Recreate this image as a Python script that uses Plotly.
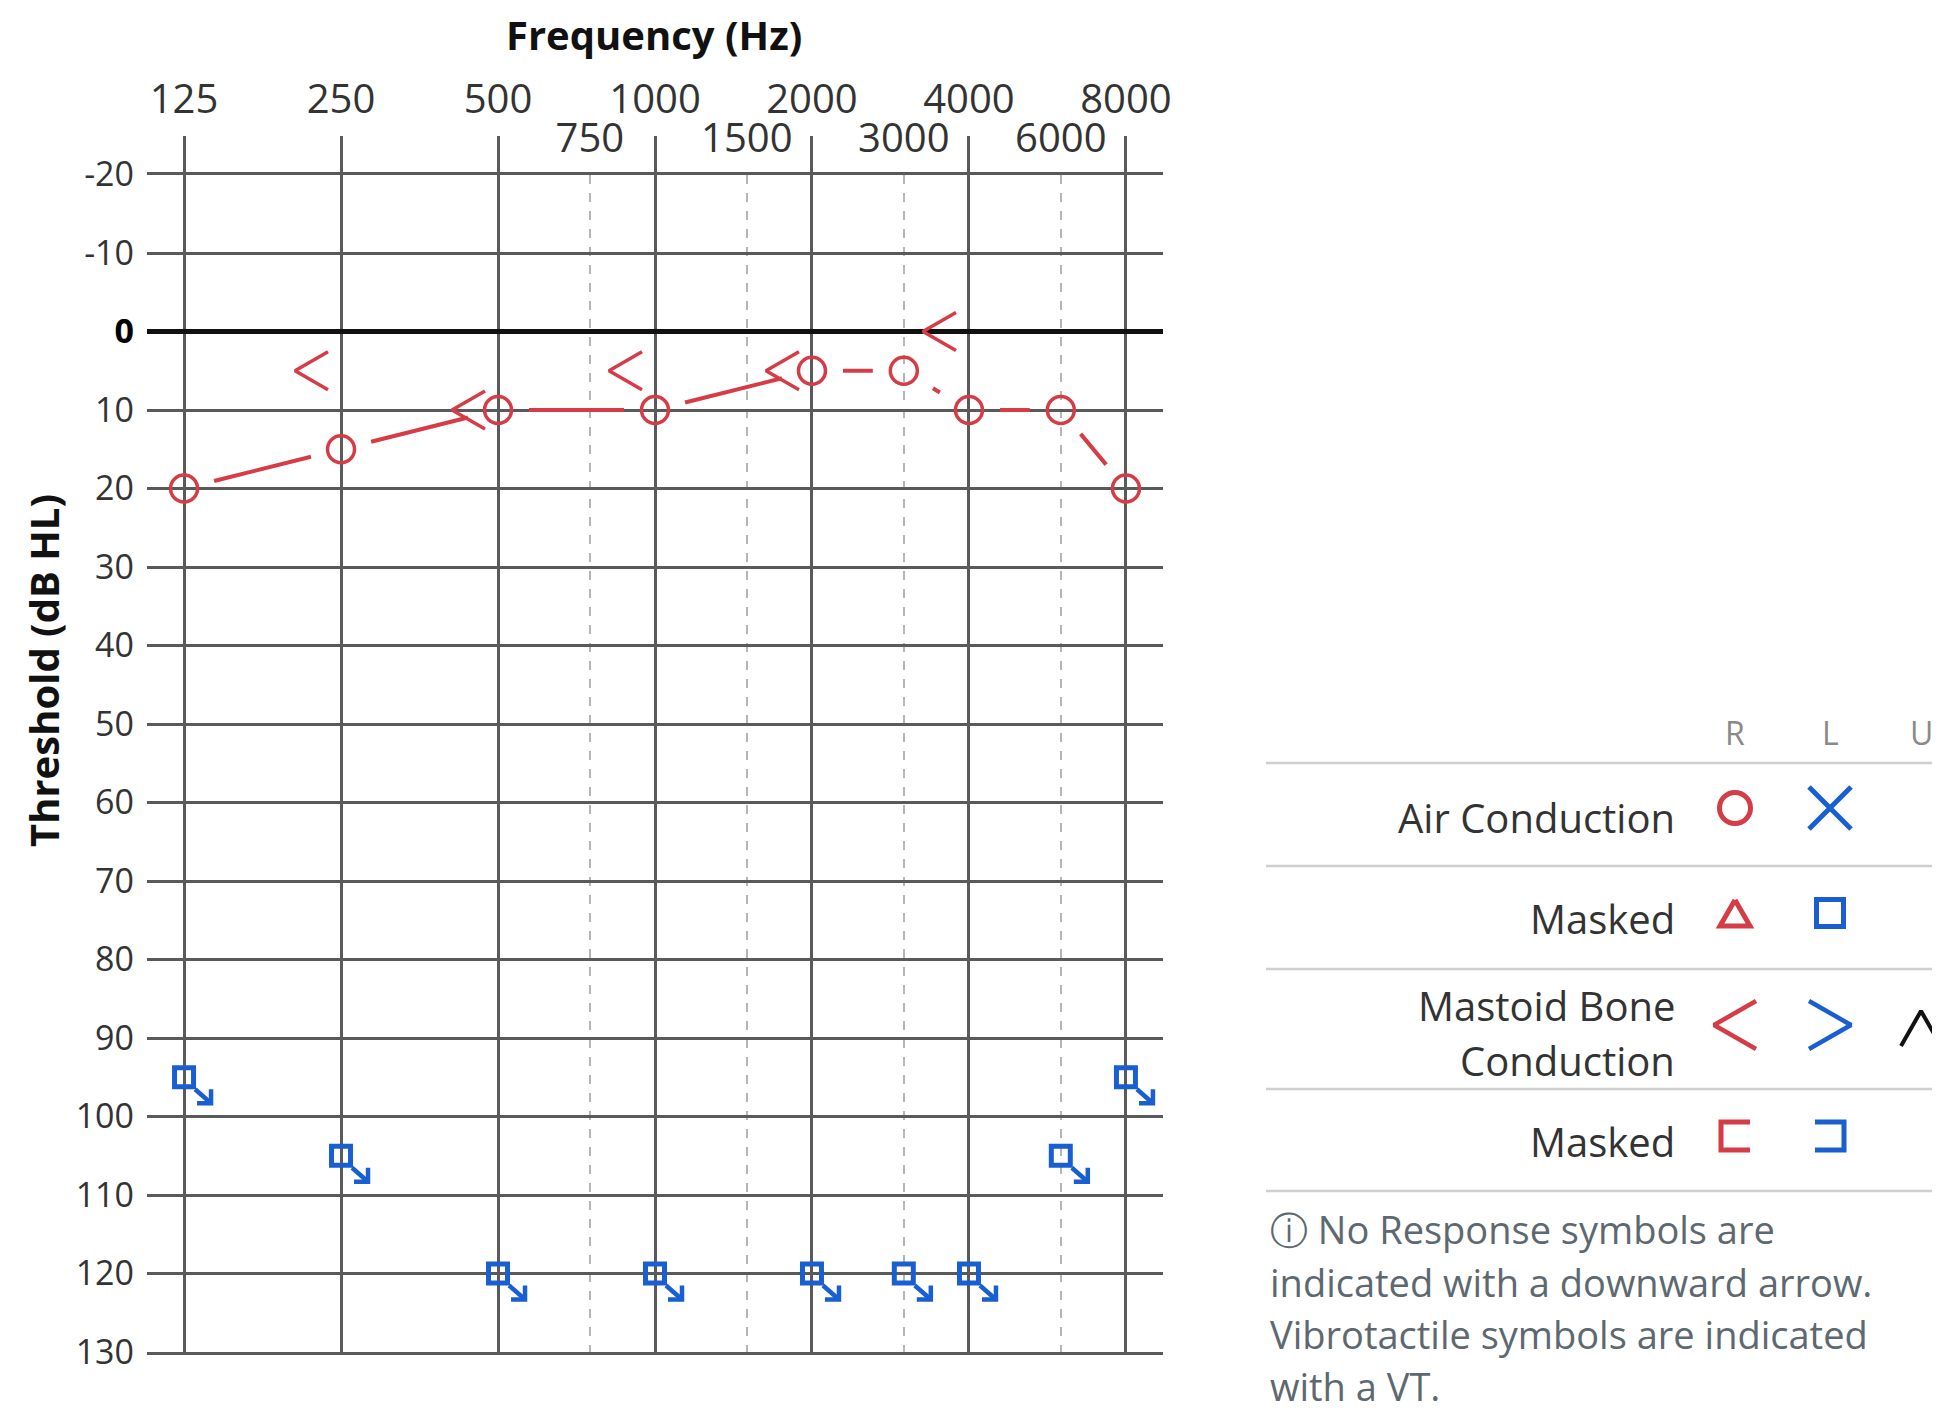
import math
import plotly.graph_objects as go

# ---------------- data ----------------
FREQ_MAJOR = [125, 250, 500, 1000, 2000, 4000, 8000]
FREQ_MAJOR_LABELS = ["125", "250", "500", "1000", "2000", "4000", "8000"]
FREQ_MINOR = [750, 1500, 3000, 6000]
FREQ_MINOR_LABELS = ["750", "1500", "3000", "6000"]
DB_TICKS = [-20, -10, 0, 10, 20, 30, 40, 50, 60, 70, 80, 90, 100, 110, 120, 130]
DB_TICK_LABELS = ["-20", "-10", "<b><span style='color:#000'>0</span></b>", "10", "20", "30", "40",
                  "50", "60", "70", "80", "90", "100", "110", "120", "130"]

AIR_R_FREQ = [125, 250, 500, 1000, 2000, 3000, 4000, 6000, 8000]
AIR_R_DB = [20, 15, 10, 10, 5, 5, 10, 10, 20]

BONE_R_FREQ = [250, 500, 1000, 2000, 4000]
BONE_R_DB = [5, 10, 5, 5, 0]

MASKED_AIR_L_NR_FREQ = [125, 250, 500, 1000, 2000, 3000, 4000, 6000, 8000]
MASKED_AIR_L_NR_DB = [95, 105, 120, 120, 120, 120, 120, 105, 95]

LEGEND_COLS = ["R", "L", "U"]
LEGEND_ROWS = ["Air Conduction", "Masked", "Mastoid Bone", "Conduction", "Masked"]
NOTE_LINES = ["ⓘ No Response symbols are",
              "indicated with a downward arrow.",
              "Vibrotactile symbols are indicated",
              "with a VT."]

X_TITLE = "Frequency (Hz)"
Y_TITLE = "Threshold (dB HL)"

# ---------------- style / geometry (screen pixels) ----------------
SW, SH = 1940, 1414
OFF = 8                      # page body margin
W, H = SW - OFF, SH - OFF    # figure size
PL, PR, PT, PB = 147, 1163, 174.5, 1352
EXT = 0.236
XMIN = FREQ_MAJOR[0] / 2 ** EXT
XMAX = FREQ_MAJOR[-1] * 2 ** EXT
OCT_PX = (PR - PL) / math.log2(XMAX / XMIN)
DB_MIN, DB_MAX = DB_TICKS[0], DB_TICKS[-1]
DB_PX = (PB - PT) / (DB_MAX - DB_MIN)

RED = "#d63c46"
BLUE = "#1a5fd1"
GRID = "#5a5a5a"
TXT = "#333333"
FONT = "Open Sans"
FS = 40


def shift(f, db, dx, dy):
    """offset a data point by dx, dy screen pixels"""
    return f * 2 ** (dx / OCT_PX), db + dy / DB_PX


def px(x):
    return (x - OFF) / W


def py(y):
    return 1 - (y - OFF) / H


fig = go.Figure()

# ----- air conduction line with gaps around markers -----
GAP = 31
lx, ly = [], []
for i in range(len(AIR_R_FREQ) - 1):
    f1, d1, f2, d2 = AIR_R_FREQ[i], AIR_R_DB[i], AIR_R_FREQ[i + 1], AIR_R_DB[i + 1]
    dx = (math.log2(f2) - math.log2(f1)) * OCT_PX
    dy = (d2 - d1) * DB_PX
    L = math.hypot(dx, dy)
    g = GAP if L > 90 else 34
    if L <= 2 * g + 1:
        continue
    ux, uy = dx / L, dy / L
    a = shift(f1, d1, ux * g, uy * g)
    b = shift(f2, d2, -ux * g, -uy * g)
    lx += [a[0], b[0], None]
    ly += [a[1], b[1], None]
fig.add_trace(go.Scatter(x=lx, y=ly, mode="lines", line=dict(color=RED, width=4),
                         hoverinfo="skip", showlegend=False))

fig.add_trace(go.Scatter(x=AIR_R_FREQ, y=AIR_R_DB, mode="markers",
                         marker=dict(symbol="circle-open", size=27, color=RED,
                                     line=dict(width=3.5, color=RED)),
                         showlegend=False, name="Air R"))

# ----- right mastoid bone conduction "<" -----
bx, by = [], []
for f, d in zip(BONE_R_FREQ, BONE_R_DB):
    top = shift(f, d, -13, -19)
    tip = shift(f, d, -46, 0)
    bot = shift(f, d, -13, 19)
    bx += [top[0], tip[0], bot[0], None]
    by += [top[1], tip[1], bot[1], None]
fig.add_trace(go.Scatter(x=bx, y=by, mode="lines", line=dict(color=RED, width=3.5),
                         hoverinfo="skip", showlegend=False))

# ----- masked air left, no response -----
fig.add_trace(go.Scatter(x=MASKED_AIR_L_NR_FREQ, y=MASKED_AIR_L_NR_DB, mode="markers",
                         marker=dict(symbol="square-open", size=19, color=BLUE,
                                     line=dict(width=5, color=BLUE)),
                         showlegend=False, name="Masked air L NR"))
ax_, ay_ = [], []
for f, d in zip(MASKED_AIR_L_NR_FREQ, MASKED_AIR_L_NR_DB):
    s = shift(f, d, 11, 12)
    t = shift(f, d, 27, 26)
    h1 = shift(f, d, 27, 12)
    h2 = shift(f, d, 13, 26)
    ax_ += [s[0], t[0], None, h1[0], t[0], h2[0], None]
    ay_ += [s[1], t[1], None, h1[1], t[1], h2[1], None]
fig.add_trace(go.Scatter(x=ax_, y=ay_, mode="lines", line=dict(color=BLUE, width=4.5),
                         hoverinfo="skip", showlegend=False))

# secondary frequency label axis (needs a trace)
fig.add_trace(go.Scatter(x=FREQ_MINOR, y=[None] * len(FREQ_MINOR), xaxis="x2", yaxis="y",
                         mode="markers", showlegend=False, hoverinfo="skip"))

# ---------------- legend panel (screen-pixel axis x3/y3) ----------------
COL_X = [1735, 1830, 1921]
ROW_Y = [808, 913, 1025, 1136]
fig.add_trace(go.Scatter(x=[COL_X[0]], y=[ROW_Y[0]], xaxis="x3", yaxis="y3", mode="markers",
                         marker=dict(symbol="circle-open", size=31, color=RED, line=dict(width=5, color=RED)),
                         showlegend=False, hoverinfo="skip"))
fig.add_trace(go.Scatter(x=[COL_X[1]], y=[ROW_Y[0]], xaxis="x3", yaxis="y3", mode="markers",
                         marker=dict(symbol="x-thin-open", size=42, color=BLUE, line=dict(width=5, color=BLUE)),
                         showlegend=False, hoverinfo="skip"))
fig.add_trace(go.Scatter(x=[COL_X[1]], y=[ROW_Y[1]], xaxis="x3", yaxis="y3", mode="markers",
                         marker=dict(symbol="square-open", size=27, color=BLUE, line=dict(width=5, color=BLUE)),
                         showlegend=False, hoverinfo="skip"))


def glyph(points_list, color, width):
    xs, ys = [], []
    for pts in points_list:
        for (a, b) in pts:
            xs.append(a)
            ys.append(b)
        xs.append(None)
        ys.append(None)
    fig.add_trace(go.Scatter(x=xs, y=ys, xaxis="x3", yaxis="y3", mode="lines",
                             line=dict(color=color, width=width), showlegend=False, hoverinfo="skip"))


cx, cy = COL_X[0], ROW_Y[1]
glyph([[(cx, cy - 13), (cx - 15, cy + 13), (cx + 15, cy + 13), (cx, cy - 13)]], RED, 5)
cx, cy = COL_X[0], ROW_Y[2]
glyph([[(cx + 21, cy - 24), (cx - 21, cy), (cx + 21, cy + 24)]], RED, 4.5)
cx = COL_X[1]
glyph([[(cx - 21, cy - 24), (cx + 21, cy), (cx - 21, cy + 24)]], BLUE, 4.5)
cx = COL_X[2]
glyph([[(cx - 20, cy + 21), (cx, cy - 14), (cx + 20, cy + 21)]], "#111111", 4)
cx, cy = COL_X[0], ROW_Y[3]
glyph([[(cx + 15, cy - 14), (cx - 14, cy - 14), (cx - 14, cy + 14), (cx + 15, cy + 14)]], RED, 5)
cx = COL_X[1]
glyph([[(cx - 15, cy - 14), (cx + 14, cy - 14), (cx + 14, cy + 14), (cx - 15, cy + 14)]], BLUE, 5)

annotations = []
annotations.append(dict(text="<b>%s</b>" % X_TITLE, x=px(654), y=py(35), xref="paper", yref="paper",
                        showarrow=False, xanchor="center", yanchor="middle",
                        font=dict(family=FONT, size=40, color="#111")))
annotations.append(dict(text="<b>%s</b>" % Y_TITLE, x=px(43), y=py(671), xref="paper", yref="paper",
                        showarrow=False, xanchor="center", yanchor="middle", textangle=-90,
                        font=dict(family=FONT, size=40, color="#111")))
for lab, x in zip(LEGEND_COLS, COL_X):
    annotations.append(dict(text=lab, x=px(x), y=py(732), xref="paper", yref="paper", showarrow=False,
                            xanchor="center", yanchor="middle",
                            font=dict(family=FONT, size=32, color="#8a8a8a")))
ROW_TEXT_Y = [817, 919, 1005, 1060, 1141]
for lab, y in zip(LEGEND_ROWS, ROW_TEXT_Y):
    annotations.append(dict(text=lab, x=px(1677), y=py(y), xref="paper", yref="paper", showarrow=False,
                            xanchor="right", yanchor="middle",
                            font=dict(family=FONT, size=40, color=TXT)))
NOTE_Y = [1229, 1282, 1334, 1386]
for lab, y in zip(NOTE_LINES, NOTE_Y):
    annotations.append(dict(text=lab, x=px(1268), y=py(y), xref="paper", yref="paper", showarrow=False,
                            xanchor="left", yanchor="middle",
                            font=dict(family=FONT, size=38, color="#5d6870")))

shapes = []
for y in [763, 866, 969, 1089, 1191]:
    shapes.append(dict(type="line", xref="paper", yref="paper", x0=px(1266), x1=1, y0=py(y), y1=py(y),
                       line=dict(color="#cfcfcf", width=2.5)))

XR = [math.log10(XMIN), math.log10(XMAX)]
fig.update_layout(
    width=W, height=H, margin=dict(l=0, r=0, t=0, b=0, pad=0), autosize=False,
    paper_bgcolor="white", plot_bgcolor="rgba(0,0,0,0)",
    showlegend=False, font=dict(family=FONT, color=TXT),
    xaxis=dict(type="log", range=XR, domain=[px(PL), px(PR)], anchor="y", side="top", automargin=False,
               tickmode="array", tickvals=FREQ_MAJOR, ticktext=FREQ_MAJOR_LABELS,
               ticks="outside", ticklen=36, tickwidth=2.5, tickcolor=GRID,
               showgrid=True, gridcolor=GRID, gridwidth=2.5,
               showline=True, linecolor=GRID, linewidth=2.5, mirror=True, zeroline=False,
               tickfont=dict(family=FONT, size=FS, color=TXT), ticklabelstandoff=7,
               minor=dict(tickmode="array", tickvals=FREQ_MINOR, showgrid=True, gridcolor="#b5b5b5",
                          gridwidth=1.5, griddash="dash", ticks=""),
               fixedrange=True),
    xaxis2=dict(type="log", range=XR, domain=[px(PL), px(PR)], anchor="y", overlaying="x", side="top",
                automargin=False,
                tickmode="array", tickvals=FREQ_MINOR, ticktext=FREQ_MINOR_LABELS, ticks="",
                showgrid=False, showline=False, zeroline=False,
                tickfont=dict(family=FONT, size=FS, color=TXT), ticklabelstandoff=14, fixedrange=True),
    yaxis=dict(range=[DB_MAX, DB_MIN], domain=[py(PB), py(PT)], anchor="x", automargin=False,
               tickmode="array", tickvals=DB_TICKS, ticktext=DB_TICK_LABELS, ticks="",
               showgrid=True, gridcolor=GRID, gridwidth=2.5,
               zeroline=True, zerolinecolor="#111111", zerolinewidth=4.5, showline=False,
               tickfont=dict(family=FONT, size=34, color=TXT), ticklabelstandoff=12, fixedrange=True),
    xaxis3=dict(domain=[0, 1], range=[OFF, OFF + W], visible=False, anchor="y3", fixedrange=True,
                automargin=False),
    yaxis3=dict(domain=[0, 1], range=[OFF + H, OFF], visible=False, anchor="x3", fixedrange=True,
                automargin=False),
    annotations=annotations, shapes=shapes,
)

fig.write_html("out.html")
